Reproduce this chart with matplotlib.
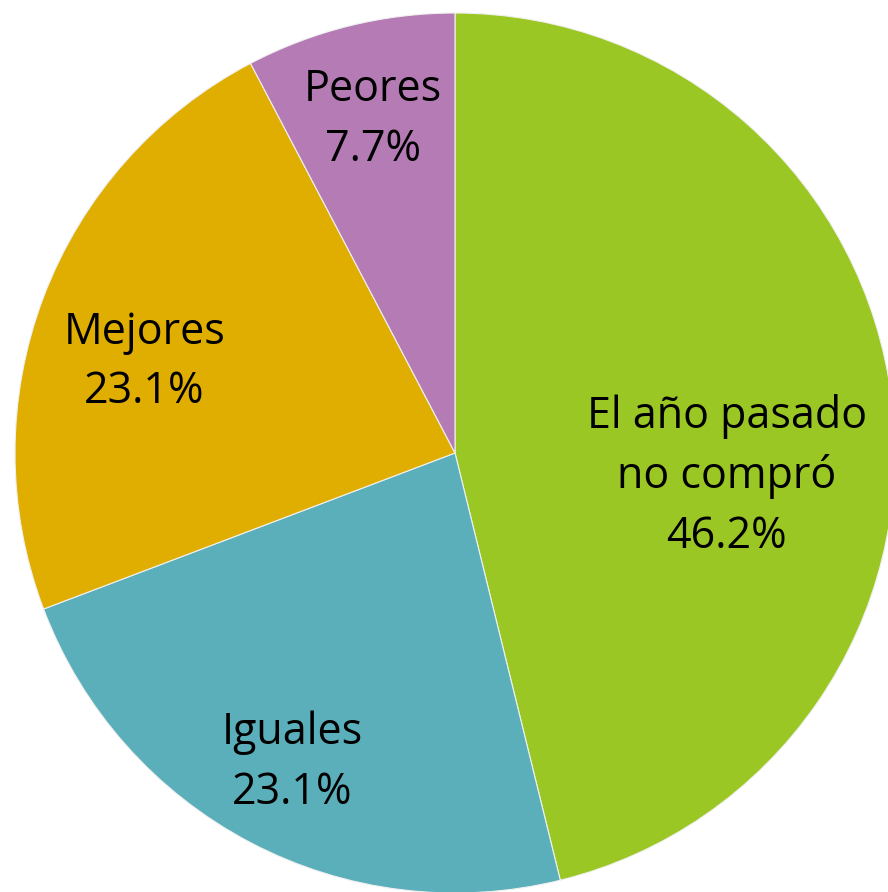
import numpy as np
import matplotlib.pyplot as plt

labels = ['El año pasado\nno compró', 'Iguales', 'Mejores', 'Peores']
values = [46.2, 23.1, 23.1, 7.7]
colors = ['#9BC724', '#5AAFBA', '#DFAE00', '#B57BB4']

# label placement tweaks per slice (distance from centre, angle shift in degrees)
label_dist = [0.62, 0.795, 0.735, 0.78]
label_shift = [-11.8, 0, 4.5, 0]

fig = plt.figure(figsize=(8.88, 8.92), dpi=100)
ax = fig.add_axes([0, 0, 1, 1])

wedges, _ = ax.pie(values, colors=colors, startangle=90, counterclock=False,
                   wedgeprops=dict(edgecolor='#f0f0f0', linewidth=0.8))

r = 440.0
ax.set_xlim(-455 / r, (888 - 455) / r)
ax.set_ylim(-(892 - 453) / r, 453 / r)
ax.set_aspect('equal')
ax.axis('off')

for w, lab, val, d, s in zip(wedges, labels, values, label_dist, label_shift):
    mid = np.deg2rad((w.theta1 + w.theta2) / 2 + s)
    ax.text(d * np.cos(mid), d * np.sin(mid), f'{lab}\n{val:.1f}%',
            ha='center', va='center', fontsize=31, family='Open Sans',
            linespacing=1.45, color='black')

fig.savefig('out.png', dpi=100)
